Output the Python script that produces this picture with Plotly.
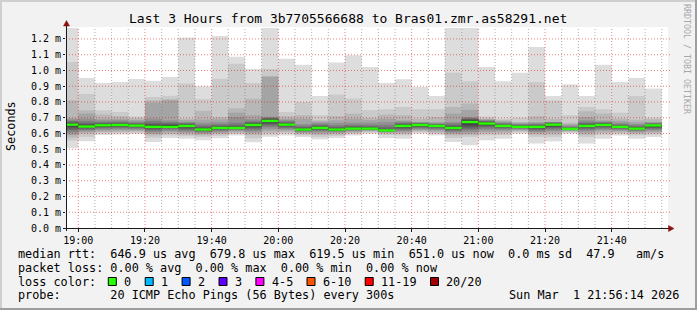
import plotly.graph_objects as go
import pandas as pd

# ---------------- data (ms) ----------------
bar_end = pd.date_range("2026-03-01 19:00:00", periods=36, freq="5min")

p_1900 = [0.508, 0.555, 0.575, 0.590, 0.600, 0.612, 0.622, 0.632, 0.642, 0.650, 0.660, 0.665, 0.670, 0.676, 0.682, 0.690, 0.698, 0.810, 1.054, 1.270]
p_1905 = [0.550, 0.578, 0.599, 0.608, 0.615, 0.622, 0.628, 0.634, 0.639, 0.642, 0.646, 0.652, 0.660, 0.668, 0.680, 0.694, 0.726, 0.747, 0.851, 0.953]
p_1910 = [0.590, 0.600, 0.608, 0.615, 0.622, 0.630, 0.636, 0.642, 0.647, 0.650, 0.654, 0.658, 0.663, 0.668, 0.675, 0.684, 0.694, 0.720, 0.747, 0.921]
p_1915 = [0.593, 0.602, 0.610, 0.618, 0.625, 0.632, 0.638, 0.643, 0.648, 0.652, 0.656, 0.660, 0.665, 0.670, 0.676, 0.684, 0.694, 0.710, 0.737, 0.927]
p_1920 = [0.597, 0.605, 0.612, 0.618, 0.624, 0.630, 0.636, 0.641, 0.645, 0.648, 0.652, 0.656, 0.660, 0.665, 0.670, 0.677, 0.686, 0.697, 0.707, 0.946]
p_1925 = [0.546, 0.572, 0.588, 0.598, 0.606, 0.614, 0.622, 0.630, 0.636, 0.640, 0.645, 0.652, 0.660, 0.668, 0.680, 0.694, 0.795, 0.810, 0.832, 0.933]
p_1930 = [0.572, 0.588, 0.598, 0.608, 0.616, 0.624, 0.631, 0.637, 0.641, 0.644, 0.648, 0.653, 0.658, 0.665, 0.673, 0.684, 0.810, 0.818, 0.839, 0.959]
p_1935 = [0.567, 0.582, 0.592, 0.602, 0.610, 0.618, 0.625, 0.632, 0.640, 0.646, 0.650, 0.655, 0.660, 0.664, 0.668, 0.673, 0.685, 0.694, 0.917, 1.209]
p_1940 = [0.557, 0.578, 0.588, 0.596, 0.603, 0.609, 0.614, 0.618, 0.621, 0.623, 0.627, 0.632, 0.638, 0.645, 0.655, 0.668, 0.688, 0.743, 0.818, 0.900]
p_1945 = [0.570, 0.585, 0.595, 0.603, 0.610, 0.617, 0.622, 0.627, 0.631, 0.634, 0.637, 0.641, 0.646, 0.652, 0.660, 0.672, 0.690, 0.705, 0.947, 1.219]
p_1950 = [0.588, 0.597, 0.605, 0.612, 0.618, 0.623, 0.627, 0.631, 0.633, 0.635, 0.637, 0.641, 0.647, 0.655, 0.668, 0.705, 0.732, 0.760, 1.042, 1.087]
p_1955 = [0.545, 0.570, 0.590, 0.602, 0.612, 0.620, 0.630, 0.638, 0.645, 0.651, 0.657, 0.662, 0.667, 0.672, 0.680, 0.690, 0.716, 0.820, 0.920, 1.010]
p_2000 = [0.580, 0.592, 0.605, 0.618, 0.630, 0.642, 0.652, 0.660, 0.668, 0.676, 0.684, 0.690, 0.694, 0.698, 0.702, 0.706, 0.960, 0.965, 1.010, 1.270]
p_2005 = [0.588, 0.600, 0.610, 0.618, 0.625, 0.632, 0.638, 0.644, 0.650, 0.654, 0.658, 0.662, 0.667, 0.672, 0.678, 0.686, 0.694, 0.710, 0.737, 1.075]
p_2010 = [0.578, 0.588, 0.596, 0.603, 0.608, 0.613, 0.617, 0.620, 0.622, 0.624, 0.627, 0.631, 0.636, 0.642, 0.650, 0.660, 0.694, 0.716, 0.800, 1.037]
p_2015 = [0.563, 0.578, 0.590, 0.600, 0.608, 0.615, 0.621, 0.626, 0.630, 0.633, 0.637, 0.641, 0.646, 0.652, 0.660, 0.668, 0.676, 0.684, 0.716, 0.838]
p_2020 = [0.572, 0.584, 0.594, 0.602, 0.608, 0.613, 0.617, 0.620, 0.622, 0.624, 0.627, 0.631, 0.636, 0.642, 0.652, 0.666, 0.684, 0.710, 0.847, 1.050]
p_2025 = [0.588, 0.597, 0.604, 0.610, 0.615, 0.620, 0.624, 0.627, 0.629, 0.631, 0.633, 0.637, 0.642, 0.648, 0.656, 0.668, 0.694, 0.726, 0.822, 1.096]
p_2030 = [0.599, 0.606, 0.612, 0.617, 0.621, 0.624, 0.626, 0.628, 0.630, 0.631, 0.633, 0.636, 0.640, 0.646, 0.655, 0.668, 0.685, 0.699, 0.748, 1.022]
p_2035 = [0.572, 0.590, 0.600, 0.605, 0.609, 0.612, 0.614, 0.616, 0.617, 0.619, 0.621, 0.624, 0.630, 0.640, 0.655, 0.672, 0.694, 0.720, 0.754, 0.921]
p_2040 = [0.567, 0.588, 0.598, 0.606, 0.613, 0.620, 0.627, 0.634, 0.640, 0.645, 0.650, 0.655, 0.660, 0.665, 0.670, 0.677, 0.684, 0.716, 0.768, 0.944]
p_2045 = [0.599, 0.607, 0.614, 0.620, 0.626, 0.632, 0.638, 0.643, 0.648, 0.652, 0.656, 0.659, 0.662, 0.665, 0.668, 0.671, 0.673, 0.694, 0.754, 0.895]
p_2050 = [0.588, 0.598, 0.606, 0.614, 0.621, 0.628, 0.634, 0.639, 0.643, 0.646, 0.650, 0.653, 0.656, 0.659, 0.662, 0.666, 0.673, 0.705, 0.754, 0.838]
p_2055 = [0.546, 0.572, 0.588, 0.598, 0.606, 0.613, 0.619, 0.625, 0.630, 0.633, 0.637, 0.642, 0.648, 0.655, 0.664, 0.673, 0.726, 0.768, 0.986, 1.270]
p_2100 = [0.525, 0.578, 0.590, 0.600, 0.610, 0.620, 0.630, 0.640, 0.652, 0.666, 0.680, 0.686, 0.690, 0.694, 0.700, 0.705, 0.750, 0.790, 0.931, 1.270]
p_2105 = [0.557, 0.588, 0.600, 0.610, 0.620, 0.630, 0.640, 0.648, 0.655, 0.660, 0.666, 0.670, 0.674, 0.678, 0.682, 0.686, 0.690, 0.694, 0.707, 1.022]
p_2110 = [0.567, 0.590, 0.602, 0.612, 0.620, 0.627, 0.634, 0.640, 0.644, 0.647, 0.650, 0.653, 0.657, 0.661, 0.666, 0.672, 0.678, 0.685, 0.694, 0.931]
p_2115 = [0.599, 0.607, 0.614, 0.620, 0.625, 0.630, 0.634, 0.637, 0.640, 0.642, 0.644, 0.647, 0.650, 0.654, 0.658, 0.662, 0.667, 0.673, 0.700, 0.986]
p_2120 = [0.536, 0.578, 0.592, 0.602, 0.610, 0.617, 0.624, 0.630, 0.636, 0.640, 0.644, 0.648, 0.652, 0.656, 0.661, 0.666, 0.673, 0.709, 0.927, 1.149]
p_2125 = [0.550, 0.578, 0.594, 0.606, 0.616, 0.625, 0.633, 0.640, 0.646, 0.652, 0.658, 0.662, 0.665, 0.668, 0.670, 0.672, 0.673, 0.694, 0.810, 0.838]
p_2130 = [0.599, 0.606, 0.611, 0.616, 0.620, 0.623, 0.625, 0.627, 0.628, 0.629, 0.630, 0.632, 0.635, 0.639, 0.644, 0.650, 0.658, 0.667, 0.716, 0.912]
p_2135 = [0.536, 0.578, 0.592, 0.604, 0.614, 0.622, 0.630, 0.637, 0.642, 0.646, 0.650, 0.655, 0.660, 0.666, 0.674, 0.684, 0.705, 0.741, 0.768, 0.838]
p_2140 = [0.567, 0.590, 0.603, 0.614, 0.622, 0.630, 0.637, 0.643, 0.648, 0.652, 0.656, 0.660, 0.664, 0.668, 0.672, 0.677, 0.684, 0.726, 0.754, 1.037]
p_2145 = [0.588, 0.598, 0.606, 0.614, 0.620, 0.626, 0.631, 0.636, 0.639, 0.641, 0.643, 0.646, 0.650, 0.655, 0.661, 0.668, 0.680, 0.694, 0.732, 0.927]
p_2150 = [0.567, 0.588, 0.598, 0.606, 0.612, 0.617, 0.622, 0.626, 0.629, 0.631, 0.633, 0.636, 0.640, 0.645, 0.652, 0.660, 0.672, 0.688, 0.838, 0.953]
p_2155 = [0.578, 0.592, 0.602, 0.611, 0.619, 0.626, 0.632, 0.637, 0.642, 0.646, 0.650, 0.654, 0.658, 0.662, 0.666, 0.670, 0.673, 0.690, 0.701, 0.885]

median_rtt = [0.656, 0.644, 0.652, 0.654, 0.650, 0.642, 0.642, 0.648, 0.625, 0.635,
              0.635, 0.654, 0.6798, 0.656, 0.625, 0.635, 0.625, 0.631, 0.631, 0.6195,
              0.648, 0.654, 0.648, 0.635, 0.673, 0.663, 0.648, 0.642, 0.642, 0.656,
              0.629, 0.648, 0.654, 0.642, 0.631, 0.651]

y_tick_vals = [0.0, 0.1, 0.2, 0.3, 0.4, 0.5, 0.6, 0.7, 0.8, 0.9, 1.0, 1.1, 1.2]
y_tick_text = ["0.0 m", "0.1 m", "0.2 m", "0.3 m", "0.4 m", "0.5 m", "0.6 m",
               "0.7 m", "0.8 m", "0.9 m", "1.0 m", "1.1 m", "1.2 m"]
x_tick_vals = pd.date_range("2026-03-01 19:00:00", periods=9, freq="20min")
x_tick_text = ["19:00", "19:20", "19:40", "20:00", "20:20", "20:40", "21:00", "21:20", "21:40"]

loss_labels = ["0", "1", "2", "3", "4-5", "6-10", "11-19", "20/20"]
loss_colors = ["#26ff00", "#00b8ff", "#0059ff", "#5e00ff", "#ff00ff", "#ff5500", "#ff0000", "#a10000"]

title_text = "Last 3 Hours from 3b7705566688 to Bras01.zmr.as58291.net"
legend_line1 = "median rtt:  646.9 us avg  679.8 us max  619.5 us min  651.0 us now  0.0 ms sd  47.9   am/s"
legend_line2 = "packet loss: 0.00 % avg  0.00 % max  0.00 % min  0.00 % now"
legend_line3 = "loss color:"
legend_line4 = "probe:       20 ICMP Echo Pings (56 Bytes) every 300s"
date_text = "Sun Mar  1 21:56:14 2026"

smoke_rows = [p_1900, p_1905, p_1910, p_1915, p_1920, p_1925, p_1930, p_1935, p_1940,
              p_1945, p_1950, p_1955, p_2000, p_2005, p_2010, p_2015, p_2020, p_2025,
              p_2030, p_2035, p_2040, p_2045, p_2050, p_2055, p_2100, p_2105, p_2110,
              p_2115, p_2120, p_2125, p_2130, p_2135, p_2140, p_2145, p_2150, p_2155]

# ---------------- layout geometry ----------------
W, H = 697, 310
PL, PR, PT, PB = 66, 668, 27, 228
X_START, X_END = "2026-03-01 18:56:19", "2026-03-01 21:56:53"
Y_MAX = 1.276
STEP_MS = 300000
MONO = "DejaVu Sans Mono"


def px(x):
    return (x - PL) / (PR - PL)


def py(y):
    return (PB - y) / (PB - PT)


def nb(s):
    return s.replace(" ", "\u00a0")


fig = go.Figure()

# smoke bands (outer light -> inner dark)
n = 20
half = n // 2
for ib in range(1, half + 1):
    g = int(190 / half * (half - ib)) + 50
    lo = [row[ib - 1] for row in smoke_rows]
    hi = [row[n - ib] for row in smoke_rows]
    fig.add_trace(go.Bar(
        x=bar_end, y=[h - l for h, l in zip(hi, lo)], base=lo,
        width=STEP_MS, offset=-STEP_MS,
        marker=dict(color=f"rgb({g},{g},{g})", line=dict(width=0)),
        hoverinfo="skip", showlegend=False))

# median line (loss 0 colour)
sw = Y_MAX / (PB - PT) * 1.2
fig.add_trace(go.Bar(
    x=bar_end, y=[2 * sw] * len(median_rtt), base=[m - sw for m in median_rtt],
    width=STEP_MS, offset=-STEP_MS,
    marker=dict(color=loss_colors[0], line=dict(width=0)),
    hoverinfo="skip", showlegend=False))

shapes = []
MAJ = "rgba(225,0,0,0.5)"
MIN = "rgba(110,110,110,0.55)"
DASH = "1px,2px"
major_set = set(x_tick_vals)
for t in pd.date_range("2026-03-01 19:00:00", "2026-03-01 21:55:00", freq="5min"):
    col = MAJ if t in major_set else MIN
    shapes.append(dict(type="line", xref="x", yref="paper", x0=t, x1=t, y0=0, y1=1,
                       line=dict(color=col, width=1, dash=DASH), layer="above"))
for v in y_tick_vals[1:]:
    shapes.append(dict(type="line", xref="paper", yref="y", x0=0, x1=px(670), y0=v, y1=v,
                       line=dict(color=MAJ, width=1, dash=DASH), layer="above"))

AX = "#1a1a1a"
ARW = "#8a1010"
# axes lines
shapes.append(dict(type="line", xref="paper", yref="paper", x0=px(66.5), x1=px(66.5),
                   y0=py(231), y1=py(25), line=dict(color=AX, width=1), layer="above"))
shapes.append(dict(type="line", xref="paper", yref="paper", x0=px(63), x1=px(669),
                   y0=py(228.5), y1=py(228.5), line=dict(color=AX, width=1), layer="above"))
# arrows
shapes.append(dict(type="path", xref="paper", yref="paper",
                   path=f"M {px(66.5)},{py(20.5)} L {px(63.5)},{py(26)} L {px(69.5)},{py(26)} Z",
                   fillcolor=ARW, line=dict(color=ARW, width=0.5), layer="above"))
shapes.append(dict(type="path", xref="paper", yref="paper",
                   path=f"M {px(674)},{py(228.5)} L {px(668.5)},{py(225.5)} L {px(668.5)},{py(231.5)} Z",
                   fillcolor=ARW, line=dict(color=ARW, width=0.5), layer="above"))
# frame
shapes += [
    dict(type="rect", xref="paper", yref="paper", x0=px(0), x1=px(W), y0=py(0), y1=py(2),
         fillcolor="#cfcfcf", line=dict(width=0)),
    dict(type="rect", xref="paper", yref="paper", x0=px(0), x1=px(2), y0=py(0), y1=py(H),
         fillcolor="#cfcfcf", line=dict(width=0)),
    dict(type="rect", xref="paper", yref="paper", x0=px(0), x1=px(W), y0=py(H - 2), y1=py(H),
         fillcolor="#9e9e9e", line=dict(width=0)),
    dict(type="rect", xref="paper", yref="paper", x0=px(W - 2), x1=px(W), y0=py(0), y1=py(H),
         fillcolor="#9e9e9e", line=dict(width=0)),
]

annotations = []
LEG_FS = 11.8
CW = 7.1
annotations.append(dict(text=nb(title_text), xref="paper", yref="paper", x=px(348), y=py(18.8),
                        xanchor="center", yanchor="middle", showarrow=False,
                        font=dict(family=MONO, size=13, color="#000")))
annotations.append(dict(text="Seconds", xref="paper", yref="paper", x=px(11), y=py(126),
                        xanchor="center", yanchor="middle", showarrow=False, textangle=-90,
                        font=dict(family=MONO, size=11.8, color="#000")))
annotations.append(dict(text=nb("RRDTOOL / TOBI OETIKER"), xref="paper", yref="paper",
                        x=px(687), y=py(59), xanchor="center", yanchor="middle",
                        showarrow=False, textangle=90,
                        font=dict(family=MONO, size=8.3, color="#a8a8a8")))
line_y = [254.3, 268.0, 281.7, 295.4]
for txt, yy in zip([legend_line1, legend_line2, legend_line3, legend_line4], line_y):
    annotations.append(dict(text=nb(txt), xref="paper", yref="paper", x=px(15.5), y=py(yy),
                            xanchor="left", yanchor="middle", showarrow=False,
                            font=dict(family=MONO, size=LEG_FS, color="#000")))
annotations.append(dict(text=nb(date_text), xref="paper", yref="paper", x=px(681), y=py(line_y[3]),
                        xanchor="right", yanchor="middle", showarrow=False,
                        font=dict(family=MONO, size=LEG_FS, color="#000")))
# loss colour boxes
bx = 108.3
for lab, colr in zip(loss_labels, loss_colors):
    shapes.append(dict(type="rect", xref="paper", yref="paper", x0=px(bx), x1=px(bx + 8),
                       y0=py(277.5), y1=py(285.5), fillcolor=colr,
                       line=dict(color="#000", width=1), layer="above"))
    lx = bx + 14.3
    annotations.append(dict(text=nb(lab), xref="paper", yref="paper", x=px(lx - 0.5), y=py(line_y[2]),
                            xanchor="left", yanchor="middle", showarrow=False,
                            font=dict(family=MONO, size=LEG_FS, color="#000")))
    bx = lx + len(lab) * CW + 15.5

fig.update_layout(
    width=W, height=H, autosize=False,
    margin=dict(l=PL, r=W - PR, t=PT, b=H - PB, pad=0),
    paper_bgcolor="#f2f2f2", plot_bgcolor="#ffffff",
    barmode="overlay", showlegend=False,
    shapes=shapes, annotations=annotations,
    xaxis=dict(type="date", range=[X_START, X_END], tickvals=x_tick_vals, ticktext=x_tick_text,
               showgrid=False, zeroline=False, showline=False,
               ticks="outside", ticklen=3, tickcolor=AX, tickwidth=1,
               tickfont=dict(family=MONO, size=10, color="#000"), fixedrange=True),
    yaxis=dict(range=[0, Y_MAX], tickvals=y_tick_vals, ticktext=y_tick_text,
               showgrid=False, zeroline=False, showline=False,
               ticks="outside", ticklen=2, tickcolor=AX, tickwidth=1,
               tickfont=dict(family=MONO, size=10, color="#000"), fixedrange=True),
)

fig.write_html("out.html")
